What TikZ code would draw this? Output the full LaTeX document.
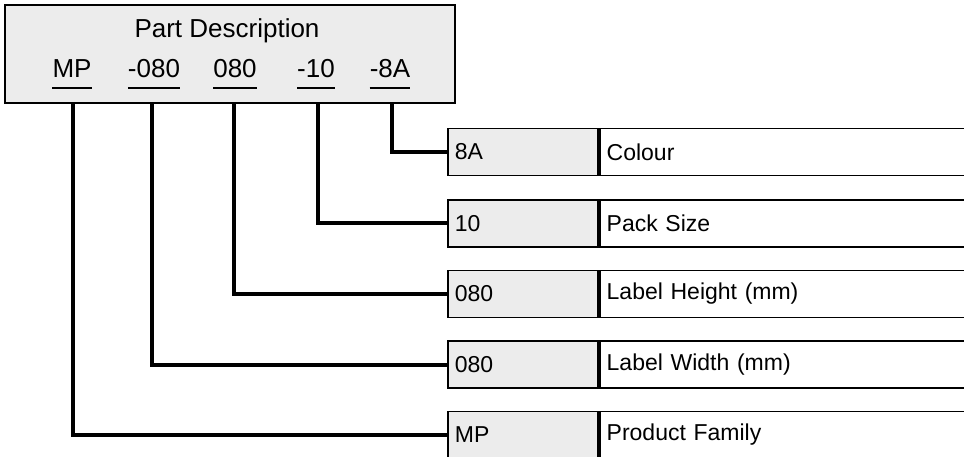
\documentclass[tikz,border=0pt]{standalone}
\usepackage{fontspec}
\setmainfont{Liberation Sans}
\definecolor{boxgray}{HTML}{ECECEC}
\begin{document}
\begin{tikzpicture}[x=1pt,y=-1pt,
  topbox/.style={draw, line width=2pt, fill=boxgray, minimum width=450pt, minimum height=98pt, inner sep=0pt},
  bigtext/.style={font=\fontsize{26}{30}\selectfont, inner sep=0pt, anchor=base},
  keybox/.style={draw, line width=1.8pt, fill=boxgray, text width=136pt, inner xsep=7pt, inner ysep=0pt, minimum height=47pt, align=left, anchor=west, font=\fontsize{23}{27}\selectfont},
  descbox/.style={draw, line width=1.8pt, fill=white, text width=400pt, inner xsep=7pt, inner ysep=0pt, minimum height=47pt, align=left, anchor=west, font=\fontsize{23}{27}\selectfont},
  conn/.style={line width=4pt, line join=miter},
  uline/.style={line width=1.5pt}
]
\useasboundingbox (0,0) rectangle (964,457);
\clip (0,0) rectangle (964,457);
% top box
\node[topbox] (top) at (230,54) {};
\node[bigtext] (title) at (227,38) {Part Description};
\node[bigtext] (c1) at (72,78) {MP};
\node[bigtext] (c2) at (154,78) {-080};
\node[bigtext] (c3) at (235,78) {080};
\node[bigtext] (c4) at (316,78) {-10};
\node[bigtext] (c5) at (390,78) {-8A};
\foreach \c in {c1,c2,c3,c4,c5}{
  \draw[uline] ([yshift=-10pt]\c.base west) -- ([yshift=-10pt]\c.base east);
}
% rows
\node[keybox] (k1) at (447,152) {8A};
\node[descbox] (d1) at (k1.east) {Colour};
\node[keybox] (k2) at (447,223.5) {10};
\node[descbox] (d2) at (k2.east) {Pack Size};
\node[keybox] (k3) at (447,294) {080};
\node[descbox] (d3) at (k3.east) {Label Height (mm)};
\node[keybox] (k4) at (447,364.5) {080};
\node[descbox] (d4) at (k4.east) {Label Width (mm)};
\node[keybox] (k5) at (447,435) {MP};
\node[descbox] (d5) at (k5.east) {Product Family};
% connectors
\draw[conn] ([xshift=2pt]c5.center |- top.south) |- (k1.west);
\draw[conn] ([xshift=2pt]c4.center |- top.south) |- (k2.west);
\draw[conn] ([xshift=-1pt]c3.center |- top.south) |- (k3.west);
\draw[conn] ([xshift=-2pt]c2.center |- top.south) |- (k4.west);
\draw[conn] ([xshift=1pt]c1.center |- top.south) |- (k5.west);
\end{tikzpicture}
\end{document}
